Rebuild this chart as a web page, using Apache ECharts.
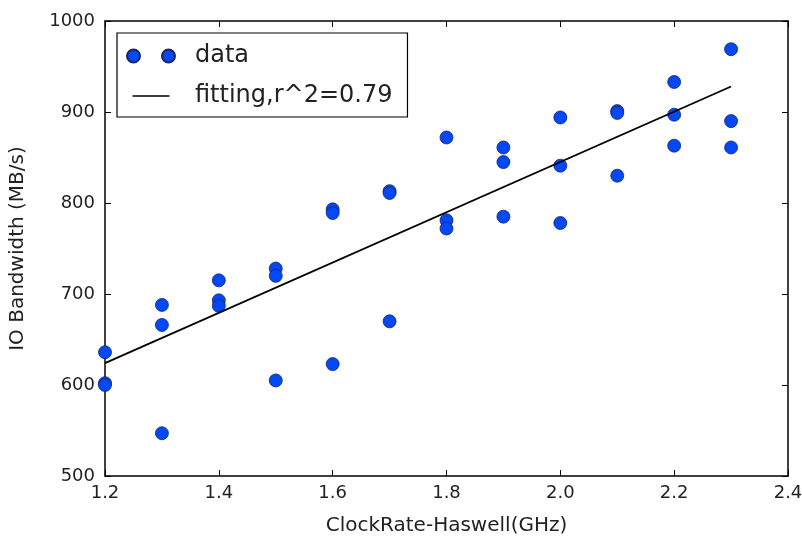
<!DOCTYPE html>
<html><head><meta charset="utf-8">
<script src="https://cdn.jsdelivr.net/npm/echarts@6/dist/echarts.min.js"></script>
<style>html,body{margin:0;padding:0;background:#fff}#c{width:802px;height:537px}</style>
</head><body><div id="c"></div>
<script>
const clockRates = [1.2,1.2,1.2, 1.3,1.3,1.3, 1.4,1.4,1.4, 1.5,1.5,1.5, 1.6,1.6,1.6, 1.7,1.7,1.7, 1.8,1.8,1.8, 1.9,1.9,1.9, 2.0,2.0,2.0, 2.1,2.1,2.1, 2.2,2.2,2.2, 2.3,2.3,2.3];
const bandwidths = [636,602,600, 688,666,547, 715,693,687, 728,720,605, 793,789,623, 813,811,670, 872,781,772, 861,845,785, 894,841,778, 901,899,830, 933,897,863, 969,890,861];
const fitX = [1.2, 2.3];
const fitY = [624, 928];
const xTicks = [1.2,1.4,1.6,1.8,2.0,2.2,2.4];
const yTicks = [500,600,700,800,900,1000];
const dataName = 'data';
const fitName = 'fitting,r^2=0.79';
const xTitle = 'ClockRate-Haswell(GHz)';
const yTitle = 'IO Bandwidth (MB/s)';

const FONT = 'DejaVu Sans';
const chart = echarts.init(document.getElementById('c'), null, {renderer:'canvas'});
const tickCommon = {inside:true, length:6, lineStyle:{color:'#000', width:1}};
chart.setOption({
  animation:false,
  backgroundColor:'#fff',
  grid:{left:105, right:14, top:21, bottom:61, containLabel:false, outerBoundsMode:'none'},
  legend:{
    orient:'vertical', left:117, top:33,
    padding:[11,15,9,9],
    borderColor:'#000', borderWidth:1.2,
    itemWidth:48, itemHeight:13, itemGap:16,
    textStyle:{fontFamily:FONT, fontSize:24, color:'#222', padding:[0,0,0,15], lineHeight:20},
    data:[
      {name:dataName, icon:'path://M0,6.5a6.5,6.5 0 1,0 13,0a6.5,6.5 0 1,0 -13,0ZM35,6.5a6.5,6.5 0 1,0 13,0a6.5,6.5 0 1,0 -13,0Z'},
      {name:fitName, icon:'path://M0,0L0.01,0L0,0.01ZM5.5,5.7L42.5,5.7L42.5,7.3L5.5,7.3ZM48,13L47.99,13L48,12.99Z'}
    ]
  },
  xAxis:[{
    type:'value', min:xTicks[0], max:xTicks[xTicks.length-1], interval:0.2,
    name:xTitle, nameLocation:'middle', nameGap:40,
    nameTextStyle:{fontFamily:FONT, fontSize:20, color:'#222'},
    axisLine:{lineStyle:{color:'#000', width:1.5}},
    axisTick:tickCommon,
    axisLabel:{fontFamily:FONT, fontSize:18, color:'#222', margin:8, formatter:v=>v.toFixed(1)},
    splitLine:{show:false}
  },{
    type:'value', position:'top', min:xTicks[0], max:xTicks[xTicks.length-1], interval:0.2,
    axisLine:{show:true, lineStyle:{color:'#000', width:1.5}},
    axisTick:tickCommon, axisLabel:{show:false}, splitLine:{show:false}
  }],
  yAxis:[{
    type:'value', min:yTicks[0], max:yTicks[yTicks.length-1], interval:100,
    name:yTitle, nameLocation:'middle', nameGap:77,
    nameTextStyle:{fontFamily:FONT, fontSize:20, color:'#222'},
    axisLine:{show:true, lineStyle:{color:'#000', width:1.5}},
    axisTick:tickCommon,
    axisLabel:{fontFamily:FONT, fontSize:18, color:'#222', margin:10, formatter:v=>String(v)},
    splitLine:{show:false}
  },{
    type:'value', position:'right', min:yTicks[0], max:yTicks[yTicks.length-1], interval:100,
    axisLine:{show:true, lineStyle:{color:'#000', width:1.5}},
    axisTick:tickCommon, axisLabel:{show:false}, splitLine:{show:false}
  }],
  series:[
    {
      name:dataName, type:'scatter', symbol:'circle', symbolSize:13,
      itemStyle:{color:'#0048f8', borderColor:'#1a2560', borderWidth:0.8, opacity:1},
      data:clockRates.map((x,i)=>[x, bandwidths[i]]), z:3
    },
    {
      name:fitName, type:'line', symbol:'none',
      itemStyle:{color:'#000'}, lineStyle:{color:'#000', width:1.8},
      data:fitX.map((x,i)=>[x, fitY[i]]), z:4
    }
  ]
});
</script></body></html>
